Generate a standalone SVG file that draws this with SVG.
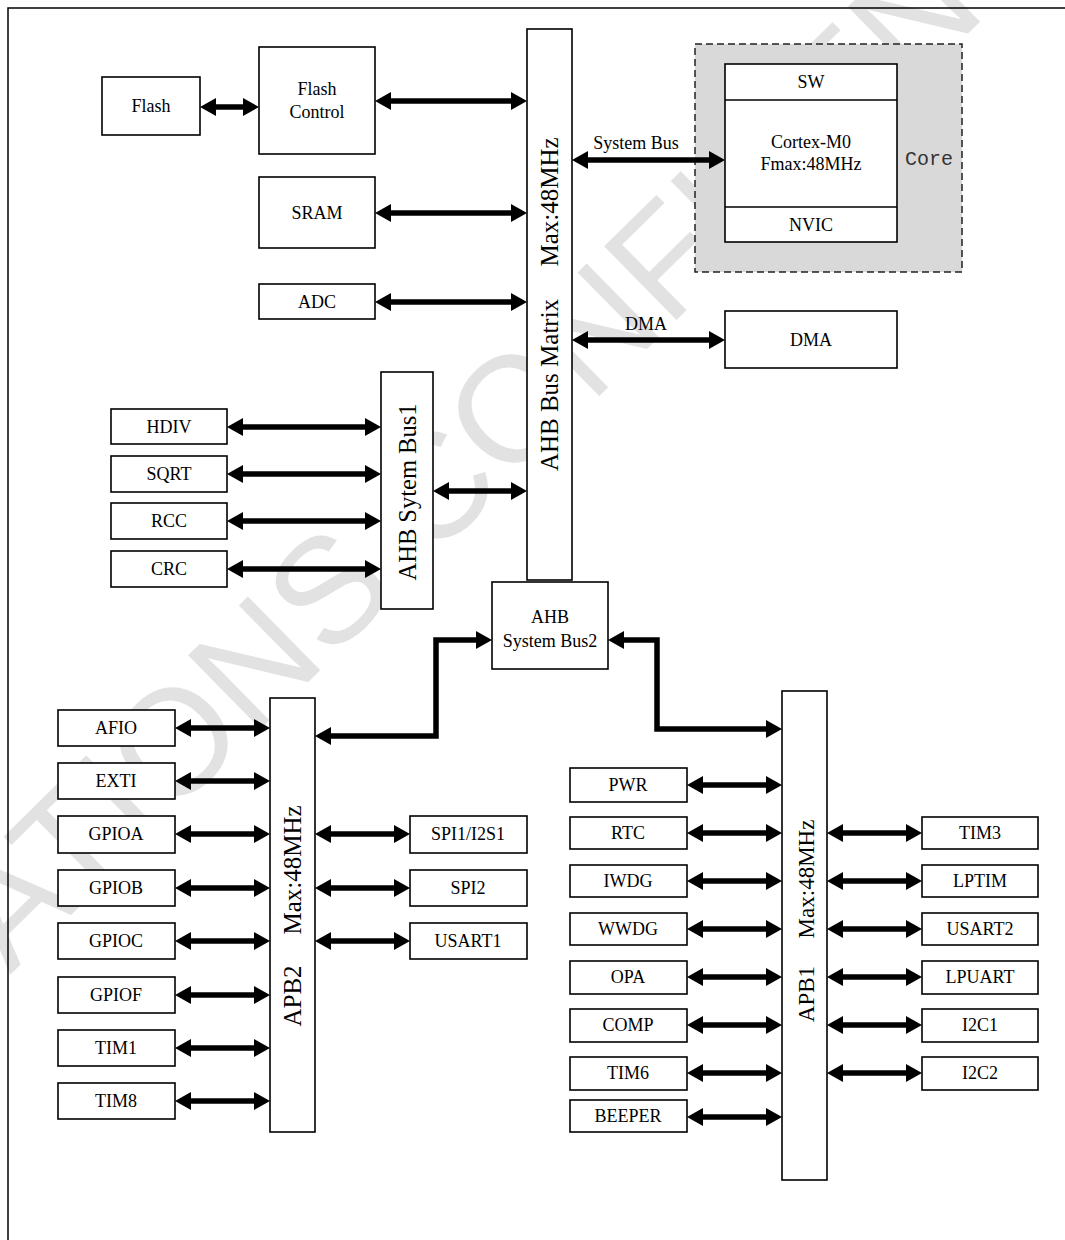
<svg xmlns="http://www.w3.org/2000/svg" width="1065" height="1240" viewBox="0 0 1065 1240">
<style>
.b{fill:#fff;stroke:#000;stroke-width:1.6}
.t{font-family:"Liberation Serif","Times New Roman",serif;font-size:18px;fill:#000;text-anchor:middle}
.v{font-family:"Liberation Serif","Times New Roman",serif;font-size:25px;fill:#000;text-anchor:middle}
.c{fill:none;stroke:#000;stroke-width:5.5;marker-start:url(#ah);marker-end:url(#ah)}
.wm{font-family:"Liberation Sans",Arial,sans-serif;font-size:150px;fill:#e2e2e2}
</style>
<defs>
<marker id="ah" viewBox="0 0 16 18" refX="6" refY="9" markerWidth="16" markerHeight="18" markerUnits="userSpaceOnUse" orient="auto-start-reverse">
<path d="M0,0 L16,9 L0,18 z" fill="#000"/>
</marker>
</defs>
<rect width="1065" height="1240" fill="#fff"/>
<text class="wm" transform="translate(10,975) rotate(-44.5)">ATIONS CONFIDEN</text>
<path d="M8,1240 V8 H1065" fill="none" stroke="#000" stroke-width="1.5"/>

<g id="core">
<rect x="695" y="44" width="267" height="228" fill="#d9d9d9" stroke="#222" stroke-width="1.5" stroke-dasharray="7,4"/>
<text x="905" y="165" style="font-family:'Liberation Mono','Courier New',monospace;font-size:20px;fill:#333">Core</text>
</g>
<g id="cpu">
<rect class="b" x="725" y="64" width="172" height="178"/>
<line x1="725" y1="100" x2="897" y2="100" stroke="#000" stroke-width="1.6"/>
<line x1="725" y1="207" x2="897" y2="207" stroke="#000" stroke-width="1.6"/>
<text class="t" x="811" y="88">SW</text>
<text class="t" x="811" y="148">Cortex-M0</text>
<text class="t" x="811" y="170">Fmax:48MHz</text>
<text class="t" x="811" y="231">NVIC</text>
</g>
<g id="dma"><rect class="b" x="725" y="311" width="172" height="57"/><text class="t" x="811" y="346">DMA</text></g>

<g id="flash"><rect class="b" x="102" y="77" width="98" height="58"/><text class="t" x="151" y="112">Flash</text></g>
<g id="flashctrl"><rect class="b" x="259" y="47" width="116" height="107"/><text class="t" x="317" y="95">Flash</text><text class="t" x="317" y="118">Control</text></g>
<g id="sram"><rect class="b" x="259" y="177" width="116" height="71"/><text class="t" x="317" y="219">SRAM</text></g>
<g id="adc"><rect class="b" x="259" y="284" width="116" height="35"/><text class="t" x="317" y="308">ADC</text></g>

<g id="matrix"><rect class="b" x="527" y="29" width="45" height="551"/>
<text class="v" transform="translate(558,202) rotate(-90)">Max:48MHz</text>
<text class="v" transform="translate(558,385) rotate(-90)">AHB Bus Matrix</text></g>

<g id="bus1"><rect class="b" x="381" y="372" width="52" height="237"/>
<text class="v" style="font-size:24.5px" transform="translate(416,492) rotate(-90)">AHB Sytem Bus1</text></g>
<g id="hdiv"><rect class="b" x="111" y="409" width="116" height="35"/><text class="t" x="169" y="433">HDIV</text></g>
<g id="sqrt"><rect class="b" x="111" y="456" width="116" height="36"/><text class="t" x="169" y="480">SQRT</text></g>
<g id="rcc"><rect class="b" x="111" y="503" width="116" height="36"/><text class="t" x="169" y="527">RCC</text></g>
<g id="crc"><rect class="b" x="111" y="551" width="116" height="36"/><text class="t" x="169" y="575">CRC</text></g>

<g id="bus2"><rect class="b" x="492" y="582" width="116" height="87"/><text class="t" x="550" y="623">AHB</text><text class="t" x="550" y="647">System Bus2</text></g>

<g id="apb2"><rect class="b" x="270" y="698" width="45" height="434"/>
<text class="v" transform="translate(301,870) rotate(-90)">Max:48MHz</text>
<text class="v" transform="translate(301,996) rotate(-90)">APB2</text></g>
<g id="afio"><rect class="b" x="58" y="710" width="117" height="36"/><text class="t" x="116" y="734">AFIO</text></g>
<g id="exti"><rect class="b" x="58" y="763" width="117" height="36"/><text class="t" x="116" y="787">EXTI</text></g>
<g id="gpioa"><rect class="b" x="58" y="816" width="117" height="37"/><text class="t" x="116" y="840">GPIOA</text></g>
<g id="gpiob"><rect class="b" x="58" y="870" width="117" height="36"/><text class="t" x="116" y="894">GPIOB</text></g>
<g id="gpioc"><rect class="b" x="58" y="923" width="117" height="36"/><text class="t" x="116" y="947">GPIOC</text></g>
<g id="gpiof"><rect class="b" x="58" y="977" width="117" height="36"/><text class="t" x="116" y="1001">GPIOF</text></g>
<g id="tim1"><rect class="b" x="58" y="1030" width="117" height="36"/><text class="t" x="116" y="1054">TIM1</text></g>
<g id="tim8"><rect class="b" x="58" y="1083" width="117" height="36"/><text class="t" x="116" y="1107">TIM8</text></g>
<g id="spi1"><rect class="b" x="410" y="816" width="117" height="37"/><text class="t" x="468" y="840">SPI1/I2S1</text></g>
<g id="spi2"><rect class="b" x="410" y="870" width="117" height="36"/><text class="t" x="468" y="894">SPI2</text></g>
<g id="usart1"><rect class="b" x="410" y="923" width="117" height="36"/><text class="t" x="468" y="947">USART1</text></g>

<g id="apb1"><rect class="b" x="782" y="691" width="45" height="489"/>
<text class="v" style="font-size:23px" transform="translate(814,879) rotate(-90)">Max:48MHz</text>
<text class="v" style="font-size:23px" transform="translate(814,994) rotate(-90)">APB1</text></g>
<g id="pwr"><rect class="b" x="570" y="768" width="117" height="34"/><text class="t" x="628" y="791">PWR</text></g>
<g id="rtc"><rect class="b" x="570" y="817" width="117" height="32"/><text class="t" x="628" y="839">RTC</text></g>
<g id="iwdg"><rect class="b" x="570" y="865" width="117" height="32"/><text class="t" x="628" y="887">IWDG</text></g>
<g id="wwdg"><rect class="b" x="570" y="913" width="117" height="32"/><text class="t" x="628" y="935">WWDG</text></g>
<g id="opa"><rect class="b" x="570" y="961" width="117" height="33"/><text class="t" x="628" y="983">OPA</text></g>
<g id="comp"><rect class="b" x="570" y="1009" width="117" height="33"/><text class="t" x="628" y="1031">COMP</text></g>
<g id="tim6"><rect class="b" x="570" y="1057" width="117" height="33"/><text class="t" x="628" y="1079">TIM6</text></g>
<g id="beeper"><rect class="b" x="570" y="1100" width="117" height="32"/><text class="t" x="628" y="1122">BEEPER</text></g>
<g id="tim3"><rect class="b" x="922" y="817" width="116" height="32"/><text class="t" x="980" y="839">TIM3</text></g>
<g id="lptim"><rect class="b" x="922" y="865" width="116" height="32"/><text class="t" x="980" y="887">LPTIM</text></g>
<g id="usart2"><rect class="b" x="922" y="913" width="116" height="32"/><text class="t" x="980" y="935">USART2</text></g>
<g id="lpuart"><rect class="b" x="922" y="961" width="116" height="33"/><text class="t" x="980" y="983">LPUART</text></g>
<g id="i2c1"><rect class="b" x="922" y="1009" width="116" height="33"/><text class="t" x="980" y="1031">I2C1</text></g>
<g id="i2c2"><rect class="b" x="922" y="1057" width="116" height="33"/><text class="t" x="980" y="1079">I2C2</text></g>

<g id="connectors">
<line class="c" x1="210" y1="107" x2="249" y2="107"/>
<line class="c" x1="385" y1="101" x2="517" y2="101"/>
<line class="c" x1="385" y1="213" x2="517" y2="213"/>
<line class="c" x1="385" y1="302" x2="517" y2="302"/>
<line class="c" x1="582" y1="160" x2="715" y2="160"/>
<line class="c" x1="582" y1="340" x2="715" y2="340"/>
<line class="c" x1="237" y1="427" x2="371" y2="427"/>
<line class="c" x1="237" y1="474" x2="371" y2="474"/>
<line class="c" x1="237" y1="521" x2="371" y2="521"/>
<line class="c" x1="237" y1="569" x2="371" y2="569"/>
<line class="c" x1="443" y1="491" x2="517" y2="491"/>
<path class="c" d="M482,640 H436 V736 H325"/>
<path class="c" d="M618,640 H657 V729 H772"/>
<line class="c" x1="185" y1="728" x2="260" y2="728"/>
<line class="c" x1="185" y1="781" x2="260" y2="781"/>
<line class="c" x1="185" y1="834" x2="260" y2="834"/>
<line class="c" x1="185" y1="888" x2="260" y2="888"/>
<line class="c" x1="185" y1="941" x2="260" y2="941"/>
<line class="c" x1="185" y1="995" x2="260" y2="995"/>
<line class="c" x1="185" y1="1048" x2="260" y2="1048"/>
<line class="c" x1="185" y1="1101" x2="260" y2="1101"/>
<line class="c" x1="325" y1="834" x2="400" y2="834"/>
<line class="c" x1="325" y1="888" x2="400" y2="888"/>
<line class="c" x1="325" y1="941" x2="400" y2="941"/>
<line class="c" x1="697" y1="785" x2="772" y2="785"/>
<line class="c" x1="697" y1="833" x2="772" y2="833"/>
<line class="c" x1="697" y1="881" x2="772" y2="881"/>
<line class="c" x1="697" y1="929" x2="772" y2="929"/>
<line class="c" x1="697" y1="977" x2="772" y2="977"/>
<line class="c" x1="697" y1="1025" x2="772" y2="1025"/>
<line class="c" x1="697" y1="1073" x2="772" y2="1073"/>
<line class="c" x1="697" y1="1117" x2="772" y2="1117"/>
<line class="c" x1="837" y1="833" x2="912" y2="833"/>
<line class="c" x1="837" y1="881" x2="912" y2="881"/>
<line class="c" x1="837" y1="929" x2="912" y2="929"/>
<line class="c" x1="837" y1="977" x2="912" y2="977"/>
<line class="c" x1="837" y1="1025" x2="912" y2="1025"/>
<line class="c" x1="837" y1="1073" x2="912" y2="1073"/>
</g>
<text class="t" x="636" y="149">System Bus</text>
<text class="t" x="646" y="330">DMA</text>
</svg>
